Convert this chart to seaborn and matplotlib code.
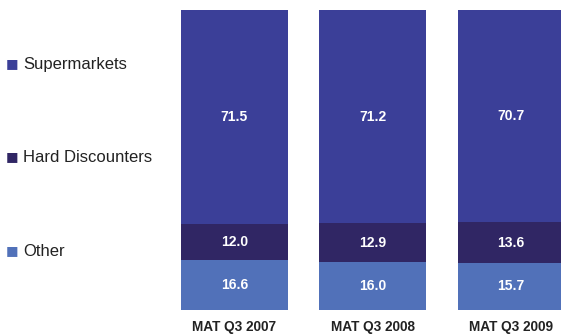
import numpy as np
import pandas as pd
import matplotlib
import matplotlib.pyplot as plt
import seaborn as sns

matplotlib.use("Agg")

# Data (share, %)
periods = ['MAT Q3 2007', 'MAT Q3 2008', 'MAT Q3 2009']
other = [16.6, 16.0, 15.7]
hard_discounters = [12.0, 12.9, 13.6]
supermarkets = [71.5, 71.2, 70.7]

series_names = ['Supermarkets', 'Hard Discounters', 'Other']
colors = {'Supermarkets': '#3b3f98', 'Hard Discounters': '#302664', 'Other': '#5171b9'}

sns.set_theme(style='white')
plt.rcParams['font.family'] = ['Liberation Sans', 'DejaVu Sans']

df = pd.DataFrame({'period': periods, 'Other': other,
                   'Hard Discounters': hard_discounters, 'Supermarkets': supermarkets})
df['low'] = df['Other']
df['mid'] = df['Other'] + df['Hard Discounters']
df['top'] = df['mid'] + df['Supermarkets']

fig = plt.figure(figsize=(5.61, 3.35), dpi=100)
ax = fig.add_axes([165 / 561, 25 / 335, 396 / 561, 300 / 335])

# stacked bars: draw cumulative totals from the top layer down
for col, name in [('top', 'Supermarkets'), ('mid', 'Hard Discounters'), ('low', 'Other')]:
    sns.barplot(data=df, x='period', y=col, color=colors[name], width=0.77,
                saturation=1, ax=ax, linewidth=0)

# value labels
for i, row in df.iterrows():
    for bottom, val in [(0, row['Other']), (row['low'], row['Hard Discounters']),
                        (row['mid'], row['Supermarkets'])]:
        ax.text(i, bottom + val / 2, f'{val:.1f}', ha='center', va='center',
                color='white', fontsize=10, fontweight='bold')

ax.set_xlim(-0.5, -0.5 + 396 / 138.5)
ax.set_ylim(0, 100.1)
ax.set_xlabel('')
ax.set_ylabel('')
ax.set_yticks([])
ax.tick_params(axis='x', length=0, pad=7)
for lbl in ax.get_xticklabels():
    lbl.set_fontweight('bold')
    lbl.set_fontsize(9.8)
    lbl.set_color('#222222')
sns.despine(ax=ax, left=True, bottom=True)

# legend on the left, aligned with the segments
legend_y = {'Supermarkets': 64, 'Hard Discounters': 157, 'Other': 251}
for name in series_names:
    y = 1 - legend_y[name] / 335
    fig.text(6 / 561, y, '■', color=colors[name], fontsize=9.5, va='center', ha='left',
             family=['DejaVu Sans'])
    fig.text(23 / 561, y, name, color='#222222', fontsize=12, va='center', ha='left')

fig.savefig('out.png', dpi=100)
